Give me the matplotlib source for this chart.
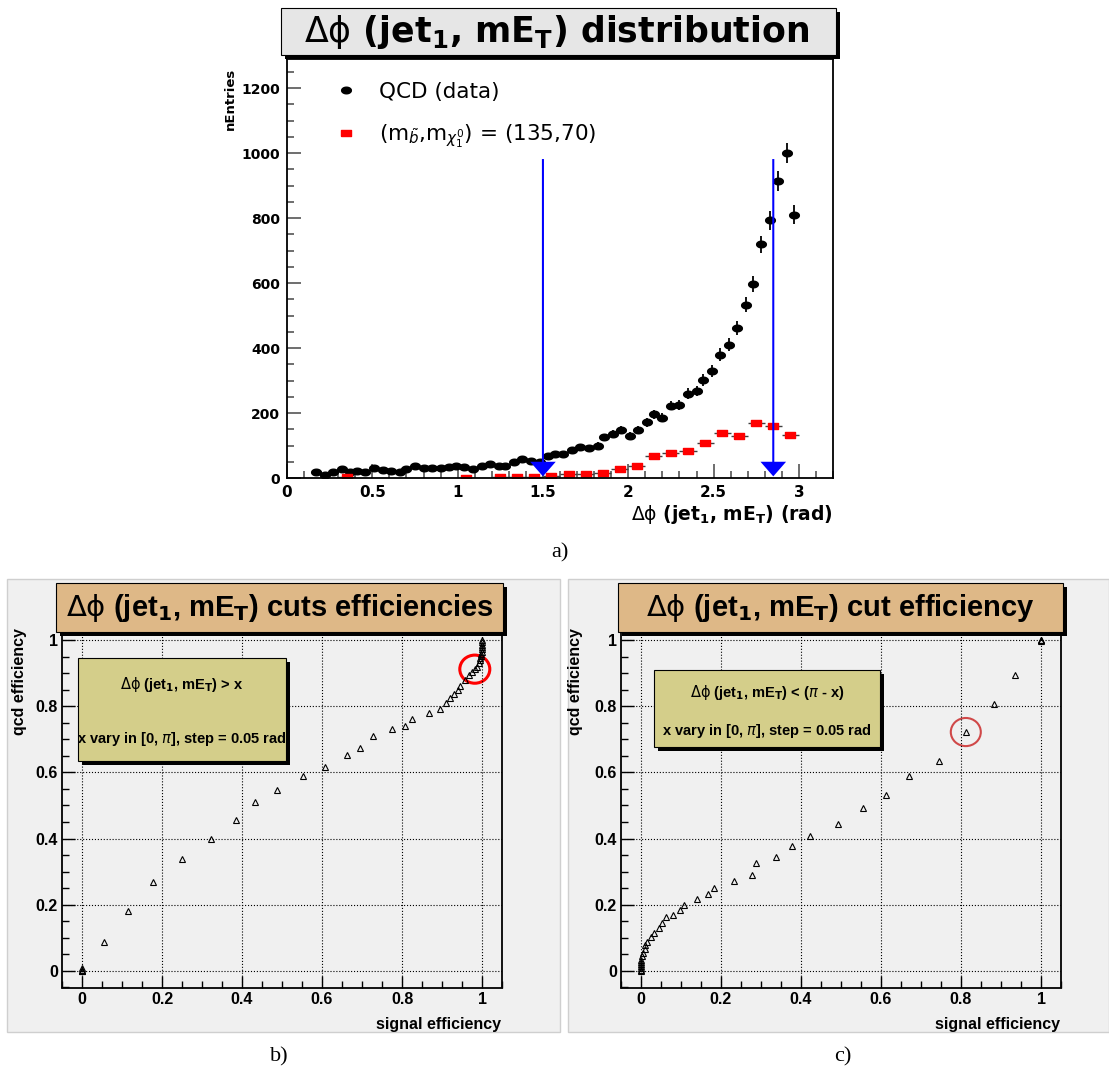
import numpy as np
import matplotlib
matplotlib.use('Agg')
import matplotlib.pyplot as plt
from matplotlib.patches import Rectangle, Ellipse
from matplotlib.path import Path
from matplotlib.lines import Line2D
from matplotlib.ticker import MultipleLocator, FuncFormatter

# ---- data ----
# a) delta-phi(jet1, MET) distribution
qcd_x = [0.17, 0.22, 0.27, 0.32, 0.37, 0.41, 0.46, 0.51, 0.56, 0.61, 0.66, 0.70, 0.75, 0.80, 0.85,
         0.90, 0.95, 0.99, 1.04, 1.09, 1.14, 1.19, 1.24, 1.28, 1.33, 1.38, 1.43, 1.48, 1.53, 1.57,
         1.62, 1.67, 1.72, 1.77, 1.82, 1.86, 1.91, 1.96, 2.01, 2.06, 2.11, 2.15, 2.20, 2.25, 2.30,
         2.35, 2.40, 2.44, 2.49, 2.54, 2.59, 2.64, 2.69, 2.73, 2.78, 2.83, 2.88, 2.93, 2.97]
qcd_y = [20, 10, 20, 27, 20, 23, 20, 30, 24, 21, 20, 27, 37, 31, 30,
         30, 33, 36, 34, 28, 38, 44, 37, 37, 50, 60, 53, 48, 67, 74,
         73, 85, 94, 92, 100, 125, 137, 147, 130, 149, 171, 196, 186, 223, 224,
         260, 268, 302, 329, 380, 410, 462, 533, 597, 719, 793, 915, 1000, 811]
sig_x = [0.35, 1.05, 1.25, 1.35, 1.45, 1.55, 1.65, 1.75, 1.85, 1.95,
         2.05, 2.15, 2.25, 2.35, 2.45, 2.55, 2.65, 2.75, 2.85, 2.95]
sig_y = [3, 1, 3, 4, 4, 7, 12, 12, 16, 28, 38, 67, 76, 82, 107, 138, 130, 168, 159, 133]
sig_half_bin = 0.05
cut_values = [1.5, 2.85]

# b) cut dphi > x
b_sig = [1.000, 1.000, 1.000, 1.000, 0.999, 0.999, 0.998, 0.997, 0.996, 0.995, 0.993, 0.988,
         0.982, 0.975, 0.968, 0.957, 0.946, 0.939, 0.930, 0.920, 0.909, 0.894, 0.867, 0.826,
         0.808, 0.774, 0.727, 0.695, 0.662, 0.608, 0.553, 0.488, 0.432, 0.384, 0.322, 0.250,
         0.178, 0.114, 0.054, 0.000, 0.000, 0.000, 0.000]
b_qcd = [1.000, 0.993, 0.986, 0.979, 0.972, 0.965, 0.958, 0.952, 0.946, 0.940, 0.930, 0.920,
         0.912, 0.902, 0.894, 0.880, 0.862, 0.849, 0.836, 0.825, 0.811, 0.791, 0.781, 0.760,
         0.740, 0.732, 0.710, 0.675, 0.654, 0.616, 0.588, 0.548, 0.511, 0.457, 0.400, 0.337,
         0.269, 0.181, 0.086, 0.008, 0.004, 0.001, 0.000]
b_mark = 12

# c) cut dphi < pi - x
c_sig = [1.000, 1.000, 1.000, 0.934, 0.882, 0.812, 0.744, 0.670, 0.612, 0.556, 0.492, 0.423,
         0.378, 0.338, 0.288, 0.277, 0.232, 0.182, 0.168, 0.140, 0.108, 0.098, 0.080, 0.062,
         0.052, 0.045, 0.033, 0.024, 0.016, 0.011, 0.009, 0.005, 0.003, 0.001, 0.000, 0.000,
         0.000, 0.000, 0.000, 0.000]
c_qcd = [1.000, 1.000, 0.998, 0.894, 0.807, 0.722, 0.634, 0.589, 0.533, 0.491, 0.444, 0.408,
         0.378, 0.344, 0.327, 0.291, 0.273, 0.250, 0.234, 0.216, 0.200, 0.183, 0.169, 0.162,
         0.144, 0.130, 0.116, 0.102, 0.089, 0.077, 0.067, 0.054, 0.044, 0.034, 0.026, 0.020,
         0.014, 0.008, 0.004, 0.000]
c_mark = 5

# ---- style ----
W, H = 1109, 1075
plt.rcParams['mathtext.fontset'] = 'custom'
plt.rcParams['mathtext.rm'] = 'DejaVu Sans'
plt.rcParams['mathtext.it'] = 'DejaVu Sans:italic'
plt.rcParams['mathtext.bf'] = 'DejaVu Sans:bold'
WIDE = ['DejaVu Sans']
NARROW = ['Liberation Sans', 'DejaVu Sans']
SERIF = ['Liberation Serif', 'DejaVu Serif']
DPHI = r'$\mathrm{\Delta\phi}$ (jet$_{\mathbf{1}}$, mE$_{\mathbf{T}}$)'

fig = plt.figure(figsize=(W / 100, H / 100), dpi=100)


def frac_box(x0, y0, x1, y1):
    return [x0 / W, 1 - y1 / H, (x1 - x0) / W, (y1 - y0) / H]


def shadow_box(x0, y0, x1, y1, color, off=4, z=5):
    fig.add_artist(Rectangle(((x0 + off) / W, 1 - (y1 + off) / H), (x1 - x0) / W, (y1 - y0) / H,
                             transform=fig.transFigure, fc='black', ec='black', lw=0, zorder=z))
    fig.add_artist(Rectangle((x0 / W, 1 - y1 / H), (x1 - x0) / W, (y1 - y0) / H,
                             transform=fig.transFigure, fc=color, ec='black', lw=0.8, zorder=z + 0.1))


def ftext(x, y, s, **kw):
    fig.text(x / W, 1 - y / H, s, ha='center', va='center', zorder=7, **kw)


fmt_g = FuncFormatter(lambda v, p: '%g' % round(v, 6))

# ---- a) distribution ----
ell = Path(np.column_stack([np.cos(np.linspace(0, 2 * np.pi, 41)),
                            0.68 * np.sin(np.linspace(0, 2 * np.pi, 41))]))
rect = Path([(-1, -0.6), (1, -0.6), (1, 0.6), (-1, 0.6), (-1, -0.6)])

ax = fig.add_axes(frac_box(287, 59, 833, 478))
ax.errorbar(qcd_x, qcd_y, yerr=np.sqrt(qcd_y), fmt='none', ecolor='black', elinewidth=1.3)
ax.plot(qcd_x, qcd_y, ls='none', marker=ell, ms=7, color='black')
ax.errorbar(sig_x, sig_y, xerr=sig_half_bin, fmt='none', ecolor='#404040', elinewidth=1)
ax.plot(sig_x, sig_y, ls='none', marker=rect, ms=7.5, color='red')
for cv in cut_values:
    ax.arrow(cv, 982, 0, -977, width=0.012, head_width=0.15, head_length=45,
             length_includes_head=True, fc='blue', ec='blue', lw=0, zorder=4)

ax.set_xlim(0, 3.2)
ax.set_ylim(0, 1290)
ax.xaxis.set_major_locator(MultipleLocator(0.5))
ax.xaxis.set_minor_locator(MultipleLocator(0.1))
ax.yaxis.set_major_locator(MultipleLocator(200))
ax.yaxis.set_minor_locator(MultipleLocator(50))
ax.xaxis.set_major_formatter(fmt_g)
ax.yaxis.set_major_formatter(fmt_g)
ax.tick_params(which='both', direction='in', color='#555555', width=1.2)
ax.tick_params(which='major', length=10, pad=5)
ax.tick_params(which='minor', length=5)
for lab in ax.get_xticklabels():
    lab.set_fontfamily(WIDE)
    lab.set_fontweight('bold')
    lab.set_fontsize(11)
for lab in ax.get_yticklabels():
    lab.set_fontfamily(WIDE)
    lab.set_fontweight('bold')
    lab.set_fontsize(10)
for sp in ax.spines.values():
    sp.set_linewidth(1.3)

ax.set_ylabel('nEntries', family=WIDE, fontweight='bold', fontsize=9.5)
ax.yaxis.set_label_coords(-0.092, 0.978)
ax.yaxis.label.set_ha('right')
ax.set_xlabel(DPHI + ' (rad)', family=WIDE, fontweight='bold', fontsize=13.5)
ax.xaxis.set_label_coords(1.0, -0.086)
ax.xaxis.label.set_ha('right')
ax.xaxis.label.set_va('center')

handles = [Line2D([], [], ls='none', marker=ell, ms=7, color='black'),
           Line2D([], [], ls='none', marker=rect, ms=7.5, color='red')]
labels = ['QCD (data)', r'(m$_{\tilde{b}}$,m$_{\chi^{0}_{1}}$) = (135,70)']
ax.legend(handles, labels, loc='center left', bbox_to_anchor=(0.088, 0.864), frameon=False,
          borderpad=0, borderaxespad=0, handlelength=1.0, handletextpad=1.05,
          labelspacing=0.95, prop={'family': WIDE, 'size': 15.5})

shadow_box(281, 8, 836, 55, '#e6e6e6')
ftext(557, 32, DPHI + ' distribution', family=WIDE, fontweight='bold', fontsize=25)
ftext(560, 553, 'a)', family=SERIF, fontsize=16)

# ---- b) and c) efficiencies ----
panels = [
    dict(bg=(7, 579, 560, 1032), axbox=(62, 623.5, 502, 987.5), sig=b_sig, qcd=b_qcd, mark=b_mark,
         ring=dict(ec='red', lw=2.2), title_box=(56, 583, 503, 632),
         title=DPHI + ' cuts efficiencies',
         note_box=(78, 658, 286, 761),
         note=[DPHI + ' > x', r'x vary in [0, $\pi$], step = 0.05 rad'],
         note_y=[685, 739], ylab_x=-0.0795, cap='b)', cap_x=279),
    dict(bg=(568, 579, 1109, 1032), axbox=(621, 623.5, 1061, 987.5), sig=c_sig, qcd=c_qcd, mark=c_mark,
         ring=dict(ec='#d04848', lw=1.5), title_box=(618, 583, 1063, 632),
         title=DPHI + ' cut efficiency',
         note_box=(654, 670, 880, 747),
         note=[DPHI + r' < ($\pi$ - x)', r'x vary in [0, $\pi$], step = 0.05 rad'],
         note_y=[692, 731], ylab_x=-0.086, cap='c)', cap_x=843),
]

for p in panels:
    x0, y0, x1, y1 = p['bg']
    fig.add_artist(Rectangle((x0 / W, 1 - y1 / H), (x1 - x0) / W, (y1 - y0) / H,
                             transform=fig.transFigure, fc='#f0f0f0', ec='#cfcfcf',
                             lw=1, zorder=-1))
    a = fig.add_axes(frac_box(*p['axbox']))
    a.set_facecolor('#f0f0f0')
    a.plot(p['sig'], p['qcd'], ls='none', marker='^', ms=5, mfc='none', mec='black', mew=0.8)
    i = p['mark']
    a.add_patch(Ellipse((p['sig'][i], p['qcd'][i]), 0.075, 0.085, fill=False, **p['ring']))
    a.set_xlim(-0.05, 1.05)
    a.set_ylim(-0.05, 1.05)
    for axis in (a.xaxis, a.yaxis):
        axis.set_major_locator(MultipleLocator(0.2))
        axis.set_minor_locator(MultipleLocator(0.05))
        axis.set_major_formatter(fmt_g)
    a.grid(True, which='major', ls=':', color='black', lw=0.8)
    a.tick_params(which='both', direction='in', width=1)
    a.tick_params(which='major', length=9, pad=3)
    a.tick_params(which='minor', length=5)
    for lab in a.get_xticklabels() + a.get_yticklabels():
        lab.set_fontfamily(NARROW)
        lab.set_fontweight('bold')
        lab.set_fontsize(11.5)
    for sp in a.spines.values():
        sp.set_linewidth(1.3)
    a.set_ylabel('qcd efficiency', family=NARROW, fontweight='bold', fontsize=11.5)
    a.yaxis.set_label_coords(p['ylab_x'], 0.988)
    a.yaxis.label.set_ha('right')
    a.set_xlabel('signal efficiency', family=NARROW, fontweight='bold', fontsize=11.5)
    a.xaxis.set_label_coords(0.997, -0.081)
    a.xaxis.label.set_ha('right')

    tx0, ty0, tx1, ty1 = p['title_box']
    shadow_box(tx0, ty0, tx1, ty1, '#deb887', off=4)
    ftext((tx0 + tx1) / 2, (ty0 + ty1) / 2 + 1, p['title'], family=NARROW,
          fontweight='bold', fontsize=21)
    nx0, ny0, nx1, ny1 = p['note_box']
    shadow_box(nx0, ny0, nx1, ny1, '#d4ce8a', off=4)
    for s, yy in zip(p['note'], p['note_y']):
        ftext((nx0 + nx1) / 2, yy, s, family=NARROW, fontweight='bold', fontsize=10.5)
    ftext(p['cap_x'], 1057, p['cap'], family=SERIF, fontsize=16)

fig.savefig('out.png', dpi=100)
